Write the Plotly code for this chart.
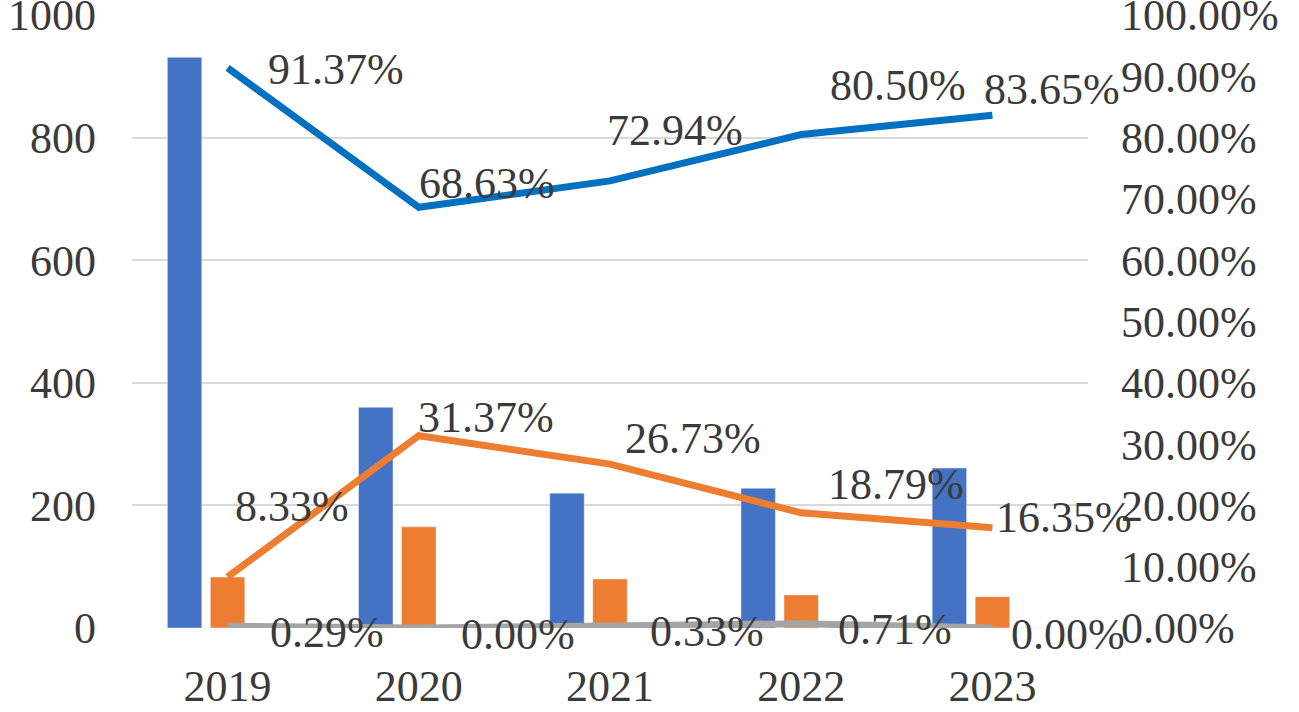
import plotly.graph_objects as go

years = ["2019", "2020", "2021", "2022", "2023"]

# bar values (left axis)
bar_blue = [931, 360, 220, 228, 261]
bar_orange = [83, 165, 80, 54, 51]
bar_gray = [3, 0, 1, 2, 0]

# percentage lines (right axis)
pct_blue = [91.37, 68.63, 72.94, 80.50, 83.65]
pct_orange = [8.33, 31.37, 26.73, 18.79, 16.35]
pct_gray = [0.29, 0.00, 0.33, 0.71, 0.00]

left_ticks = [0, 200, 400, 600, 800, 1000]
right_ticks = [0, 10, 20, 30, 40, 50, 60, 70, 80, 90, 100]

FONT = "Liberation Serif, Times New Roman, serif"
TXT = "#3A3A3A"
FS = 44

fig = go.Figure()

fig.add_trace(go.Bar(x=years, y=bar_blue, marker_color="#4472C4", yaxis="y"))
fig.add_trace(go.Bar(x=years, y=bar_orange, marker_color="#ED7D31", yaxis="y"))
fig.add_trace(go.Bar(x=years, y=bar_gray, marker_color="#A5A5A5", yaxis="y"))

fig.add_trace(go.Scatter(x=years, y=pct_gray, yaxis="y2", mode="lines",
                         line=dict(color="#A5A5A5", width=7)))
fig.add_trace(go.Scatter(x=years, y=pct_orange, yaxis="y2", mode="lines",
                         line=dict(color="#ED7D31", width=7)))
fig.add_trace(go.Scatter(x=years, y=pct_blue, yaxis="y2", mode="lines",
                         line=dict(color="#0070C0", width=7)))

# label offsets (px) per point, like the Excel label placement
blue_off = [(38, -2), (-2, 24), (-5, 50), (27, 49), (-10, 26)]
orange_off = [(5, 70), (-3, 18), (13, 26), (25, 28), (2, 10)]
gray_off = [(40, -6), (40, -6), (38, -6), (35, -6), (17, -6)]

annots = []
for vals, offs in [(pct_gray, gray_off), (pct_orange, orange_off), (pct_blue, blue_off)]:
    # category index as x, so "2019" is not read as a number
    for i, (v, (dx, dy)) in enumerate(zip(vals, offs)):
        annots.append(dict(
            x=i, y=v, xref="x", yref="y2",
            text=f"{v:.2f}%", showarrow=False,
            xanchor="left", yanchor="middle",
            xshift=dx, yshift=dy,
            font=dict(family=FONT, size=FS, color=TXT),
        ))

fig.update_layout(
    width=1299, height=712,
    margin=dict(l=132, r=211, t=15, b=84),
    paper_bgcolor="white", plot_bgcolor="white",
    showlegend=False,
    barmode="group", bargap=0.325, bargroupgap=0.2,
    font=dict(family=FONT, size=FS, color=TXT),
    annotations=annots,
    xaxis=dict(
        type="category", range=[-0.5, len(years) - 0.5],
        showgrid=False, showline=False, zeroline=False,
        ticks="", ticklabelstandoff=28, automargin=False,
        tickfont=dict(family=FONT, size=FS, color=TXT),
    ),
    yaxis=dict(
        range=[0, 1000], tickvals=left_ticks,
        showgrid=True, gridcolor="#D9D9D9", gridwidth=2,
        zeroline=False, showline=False, ticks="",
        ticklabelstandoff=35, automargin=False,
        ticklabeloverflow="allow",
        tickfont=dict(family=FONT, size=FS, color=TXT),
    ),
    yaxis2=dict(
        range=[0, 100], tickvals=right_ticks,
        ticktext=[f"{t:.2f}%" for t in right_ticks],
        overlaying="y", side="right",
        showgrid=False, zeroline=False, showline=False, ticks="",
        ticklabelstandoff=32, automargin=False,
        ticklabeloverflow="allow",
        tickfont=dict(family=FONT, size=FS, color=TXT),
    ),
)

# page body has a default 8px margin; drop it so the figure fills the window
fig.write_html("out.html", config={"displayModeBar": False},
               post_script="document.body.style.margin='0px';")
